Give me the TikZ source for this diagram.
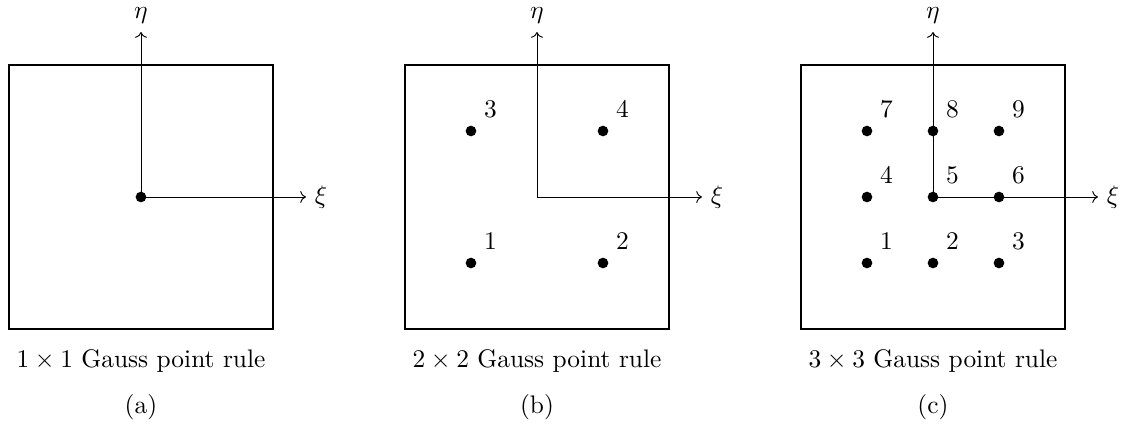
\documentclass[tikz,border=0pt,11pt]{standalone}
\usetikzlibrary{arrows.meta,positioning}
\tikzset{
  element/.style={draw,thick,minimum size=4cm,inner sep=0pt},
  gpoint/.style={circle,fill=black,inner sep=0pt,minimum size=4.6pt,
    label distance=0.5pt},
  axis/.style={->},
  caption/.style={font=\normalsize},
}

\begin{document}
\begin{tikzpicture}
  \useasboundingbox (-2.136,-3.455) rectangle (14.864,2.985);
  % (a) one point
  \node[element] (ea) at (0,0) {};
  \coordinate (xia) at (2.5,0);
  \coordinate (etaa) at (0,2.5);
  \draw[axis] (ea.center) -- (xia) node[right] {$\xi$};
  \draw[axis] (ea.center) -- (etaa) node[above] {$\eta$};
  \node[gpoint] (pa) at (ea.center) {};
  \node[caption,below=1.7mm of ea] (capa) {$1\times1$ Gauss point rule};
  \node[below=0.5mm of capa] (taga) {(a)};
  % (b) four points
  \begin{scope}[xshift=6cm]
    \node[element] (eb) at (0,0) {};
    \coordinate (xib) at (2.5,0);
    \coordinate (etab) at (0,2.5);
    \draw[axis] (eb.center) -- (xib) node[right] {$\xi$};
    \draw[axis] (eb.center) -- (etab) node[above] {$\eta$};
    \foreach \i/\x/\y in {1/-1/-1,2/1/-1,3/-1/1,4/1/1}
      \node[gpoint,label=above right:$\i$] (b\i) at (\x,\y) {};
    \node[caption,below=1.7mm of eb] (capb) {$2\times2$ Gauss point rule};
    \node[below=0.5mm of capb] (tagb) {(b)};
  \end{scope}
  % (c) nine points
  \begin{scope}[xshift=12cm]
    \node[element] (ec) at (0,0) {};
    \coordinate (xic) at (2.5,0);
    \coordinate (etac) at (0,2.5);
    \draw[axis] (ec.center) -- (xic) node[right] {$\xi$};
    \draw[axis] (ec.center) -- (etac) node[above] {$\eta$};
    \foreach \y [count=\r from 0] in {-1,0,1}
      \foreach \x [count=\c] in {-1,0,1} {
        \pgfmathtruncatemacro\n{3*\r+\c}
        \node[gpoint,label=above right:$\n$] (c\n) at (\x,\y) {};
      }
    \node[caption,below=1.7mm of ec] (capc) {$3\times3$ Gauss point rule};
    \node[below=0.5mm of capc] (tagc) {(c)};
  \end{scope}
\end{tikzpicture}
\end{document}
